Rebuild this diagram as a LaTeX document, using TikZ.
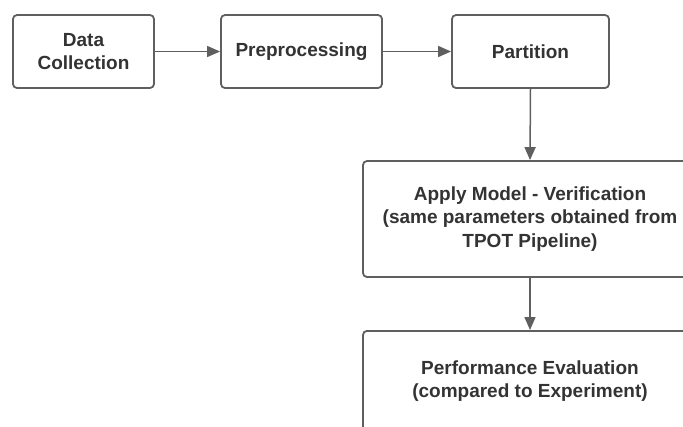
\documentclass[tikz,border=0pt]{standalone}
\usepackage{fontspec}
\setmainfont{Liberation Sans}
\usepackage{tikz}
\usetikzlibrary{arrows.meta,positioning}
\usepackage{xcolor}
\definecolor{flgray}{RGB}{95,95,95}
\definecolor{fltext}{RGB}{51,51,51}
\tikzstyle{stepbox} = [draw=flgray, line width=1.8pt, fill=white, rounded corners=4pt, text=fltext, font=\bfseries\fontsize{19}{23.5}\selectfont, align=center, inner sep=0pt]
\tikzstyle{arrow} = [line width=1.5pt, ->, >={Triangle[length=13pt,width=11pt]}, color=flgray]

\begin{document}
\begin{tikzpicture}[x=1pt, y=-1pt]
\useasboundingbox (0,0) rectangle (683,426);
\clip (0,0) rectangle (683,426);

% Top row
\node[stepbox, minimum width=141pt, minimum height=73pt] (collect) at (83.5,51.5) {Data\\Collection};
\node[stepbox, minimum width=161pt, minimum height=73pt] (prep) at (301.5,51.5) {Preprocessing};
\node[stepbox, minimum width=157pt, minimum height=73pt] (part) at (530.5,51.5) {Partition};

% Column on the right
\node[stepbox, minimum width=334pt, minimum height=116pt] (apply) at (530,219) {Apply Model - Verification\\(same parameters obtained from\\TPOT Pipeline)};
\node[stepbox, minimum width=334pt, minimum height=100pt, anchor=north] (eval) at (530,330) {Performance Evaluation\\(compared to Experiment)};

% Arrows
\draw[arrow] (collect) -- (prep);
\draw[arrow] (prep) -- (part);
\draw[arrow] (part.south) -- (apply.north);
\draw[arrow] (apply.south) -- (eval.north);
\end{tikzpicture}
\end{document}
